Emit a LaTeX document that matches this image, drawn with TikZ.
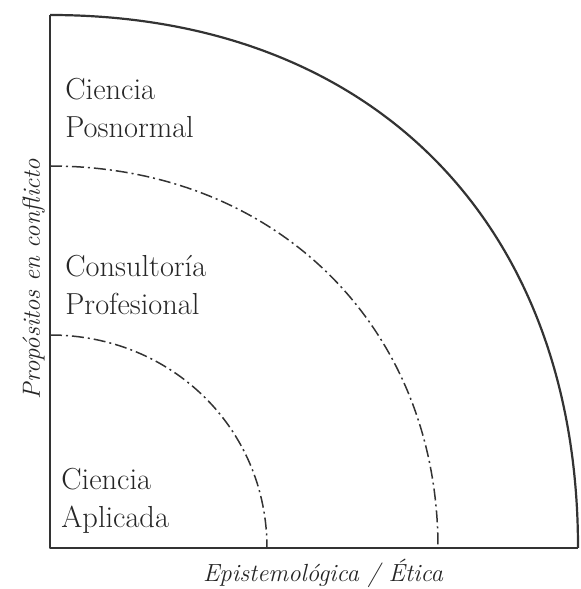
\documentclass[tikz,border=0pt]{standalone}
\usepackage{tikz}
\usetikzlibrary{positioning}

\begin{document}
\begin{tikzpicture}[x=0.5pt, y=0.5pt, line join=round,
                    axis/.style={draw=black!80, line width=1.3pt},
                    bound/.style={draw=black!80, line width=1.1pt},
                    limit/.style={draw=black!80, line width=0.75pt,
                                  dash pattern=on 6pt off 2pt on 1pt off 2pt},
                    zone/.style={align=left, anchor=base west, inner sep=0pt, text=black!85,
                                 font=\fontsize{15.2}{19}\selectfont},
                    axistext/.style={anchor=base, inner sep=0pt, text=black!85,
                                     font=\fontsize{12.4}{14}\selectfont\itshape}]

                    \useasboundingbox (-50,-41) rectangle (530,548);

                    \coordinate (o) at (0,0);
                    \coordinate (yt) at (0,533);
                    \coordinate (xr) at (528,0);
                    \coordinate (y2) at (0,382);
                    \coordinate (x2) at (388,0);
                    \coordinate (y1) at (0,213);
                    \coordinate (x1) at (217,0);

                    \draw[axis] (yt) -- (o) -- (xr);
                    \draw[bound] (yt) .. controls (322,533) and (528,325) .. (xr);
                    \draw[limit] (y2) .. controls (225,382) and (388,222) .. (x2);
                    \draw[limit] (y1) .. controls (122,213) and (217,119) .. (x1);

                    \node[zone] (posnormal) at (15,410) {Ciencia\\Posnormal};
                    \node[zone] (consultoria) at (15,233) {Consultoría\\Profesional};
                    \node[zone] (aplicada) at (11,20) {Ciencia\\Aplicada};

                    \node[axistext] (epist) at (273,-34) {Epistemológica / Ética};
                    \node[axistext, rotate=90] (propos) at (-10,269) {Propósitos en conflicto};
                \end{tikzpicture}
\end{document}
